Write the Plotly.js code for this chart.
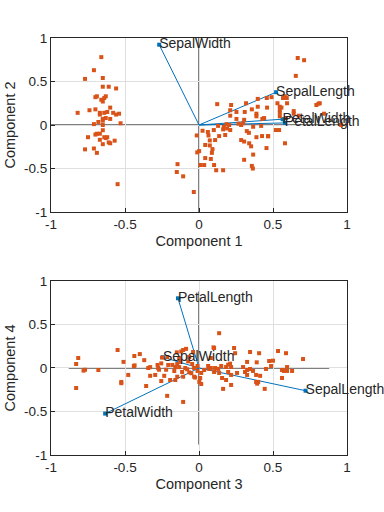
<!DOCTYPE html>
<html>
<head>
<meta charset="utf-8">
<script src="https://cdn.plot.ly/plotly-3.0.1.min.js"></script>
<style>html,body{margin:0;padding:0;background:#fff;}#chart{width:384px;height:512px;}</style>
</head>
<body>
<div id="chart"></div>
<script>
const vecNames = ['SepalLength','SepalWidth','PetalLength','PetalWidth'];
const vec12x = [0.521,-0.269,0.580,0.565];
const vec12y = [0.377,0.923,0.024,0.067];
const vec34x = [0.720,-0.244,-0.142,-0.634];
const vec34y = [-0.261,0.124,0.801,-0.524];

const score12 = [
[-0.66,0.78],[-0.71,0.63],[-0.77,0.53],[-0.65,0.54],[-0.65,0.44],[-0.61,0.44],[-0.56,0.42],[-0.70,0.32],[-0.69,0.33],[-0.63,0.33],[-0.64,0.31],[-0.66,0.29],[-0.65,0.27],[-0.60,0.20],[-0.74,0.17],[-0.70,0.18],[-0.82,0.14],[-0.67,0.14],[-0.67,0.12],[-0.64,0.14],[-0.62,0.15],[-0.58,0.14],[-0.56,0.12],[-0.54,0.13],[-0.65,0.07],[-0.63,0.08],[-0.60,0.07],[-0.65,0.05],[-0.68,0.035],[-0.53,0.02],[-0.71,0.01],[-0.65,0.0],[-0.65,-0.06],[-0.67,-0.10],[-0.69,-0.10],[-0.70,-0.11],[-0.75,-0.14],[-0.64,-0.14],[-0.63,-0.15],[-0.62,-0.14],[-0.67,-0.17],[-0.57,-0.18],[-0.61,-0.20],[-0.60,-0.21],[-0.65,-0.22],[-0.71,-0.27],[-0.77,-0.28],[-0.69,-0.32],[-0.55,-0.68],
[0.667,0.77],[0.71,0.745],[0.654,0.565],[0.458,0.31],[0.49,0.32],[0.397,0.30],[0.568,0.31],[0.58,0.33],[0.593,0.31],[0.53,0.25],[0.595,0.25],[0.123,0.24],[0.318,0.25],[0.217,0.23],[0.397,0.21],[0.46,0.20],[0.546,0.21],[0.557,0.20],[0.357,0.18],[0.211,0.17],[0.546,0.17],[0.309,0.15],[0.253,0.15],[0.388,0.13],[0.546,0.14],[0.64,0.16],[0.793,0.23],[0.816,0.25],[0.845,0.13],[0.211,0.107],[0.388,0.10],[0.546,0.10],[0.674,0.107],[0.253,0.07],[0.44,0.08],[0.428,0.07],[0.305,0.06],[0.186,0.01],[0.204,0.0],[0.129,-0.01],[0.168,-0.02],[0.267,0.015],[0.285,0.0],[0.298,0.02],[0.366,-0.02],[0.42,-0.01],[0.024,-0.066],[0.06,-0.08],[0.10,-0.058],[0.163,-0.05],[0.19,-0.04],[0.211,-0.058],[0.323,-0.07],[0.337,-0.09],[0.519,-0.058],[0.541,-0.058],[-0.015,-0.12],[0.064,-0.12],[0.136,-0.127],[0.177,-0.115],[0.388,-0.14],[0.426,-0.127],[0.467,-0.127],[0.073,-0.177],[0.109,-0.173],[0.285,-0.173],[0.305,-0.19],[0.042,-0.23],[0.073,-0.235],[0.091,-0.277],[0.339,-0.21],[0.352,-0.245],[0.456,-0.265],[0.581,-0.21],[0.001,-0.30],[-0.012,-0.315],[0.087,-0.32],[0.366,-0.34],[0.042,-0.38],[0.08,-0.39],[0.305,-0.40],[0.01,-0.46],[0.035,-0.46],[0.102,-0.46],[0.357,-0.47],[0.364,-0.50],[0.116,-0.52],[0.163,-0.52],[-0.145,-0.45],[-0.15,-0.54],[-0.107,-0.59],[-0.035,-0.77],[0.96,0.0],[0.807,0.245],[0.586,0.08],[0.64,0.13],[0.467,-0.13]
];

const score34 = [
[-0.816,0.115],[-0.83,0.046],[-0.78,-0.03],[-0.77,-0.02],[-0.68,-0.023],[-0.83,-0.23],[-0.55,0.207],[-0.51,0.07],[-0.525,-0.16],[-0.525,-0.175],[-0.44,0.023],[-0.435,0.03],[-0.437,0.138],[-0.40,0.16],[-0.478,-0.08],[-0.37,0.09],[-0.357,-0.207],[-0.343,0.0],[-0.33,0.01],[-0.33,-0.09],[-0.296,-0.08],[-0.28,0.035],[-0.276,0.0],[-0.27,-0.02],[-0.255,0.053],[-0.25,0.12],[-0.255,-0.15],[-0.235,-0.09],[-0.215,0.126],[-0.222,-0.02],[-0.208,0.035],[-0.215,-0.32],[-0.195,-0.138],[-0.16,-0.138],[-0.167,-0.035],[-0.16,0.01],[-0.147,-0.10],[-0.134,0.115],[-0.134,0.01],[-0.127,0.07],[-0.12,0.19],[-0.107,0.207],[-0.087,0.22],[-0.107,-0.39],[-0.114,-0.046],[-0.107,-0.10],[-0.093,0.0],[-0.08,-0.015],[-0.073,0.076],[-0.066,0.126],[-0.066,-0.05],[-0.052,-0.06],[-0.04,0.184],[-0.033,-0.10],[-0.026,-0.11],[-0.033,0.0],[-0.046,0.046],[-0.147,0.046],[-0.18,0.035],[-0.15,0.18],
[0.136,0.40],[0.102,0.23],[0.237,0.23],[0.244,0.17],[0.345,0.184],[0.406,0.17],[0.534,0.195],[0.588,0.17],[0.703,0.103],[0.325,0.07],[0.474,0.08],[0.487,0.023],[0.453,-0.011],[0.561,-0.023],[0.574,-0.034],[0.595,0.011],[0.595,-0.034],[0.629,-0.034],[0.561,-0.115],[0.298,0.011],[0.311,-0.046],[0.325,-0.023],[0.345,-0.011],[0.365,-0.034],[0.386,-0.08],[0.413,-0.09],[0.386,-0.16],[0.393,-0.18],[0.40,-0.16],[0.325,-0.08],[0.444,-0.24],[0.217,-0.195],[0.217,-0.08],[0.183,-0.138],[0.257,-0.057],[0.163,-0.24],[0.197,0.038],[0.21,0.05],[0.183,0.011],[0.15,0.023],[0.13,-0.011],[0.109,0.0],[0.102,-0.046],[0.136,-0.057],[0.156,-0.115],[0.062,0.023],[0.069,-0.011],[0.08,0.0],[0.035,-0.023],[0.015,-0.057],[0.008,-0.115],[0.015,-0.184],[0.002,-0.16],[-0.01,-0.034],[-0.01,0.023],[0.08,0.115],[0.217,0.011],[0.197,-0.046],[0.098,0.237],[0.5,0.084],[0.39,0.065]
];

const tickVals = [-1,-0.5,0,0.5,1];
const tickText = ['-1','-0.5','0','0.5','1'];
const axisLen12 = 1.0;
const axisLen34 = 0.88;

const FONT = 'Liberation Sans, Arial, sans-serif';
const TXT = '#262626';
const BLUE = '#0072BD';
const ORANGE = '#D95319';

function vecTraces(vx, vy, xa, ya) {
  const lx = [], ly = [];
  for (let i = 0; i < vx.length; i++) { lx.push(0, vx[i], null); ly.push(0, vy[i], null); }
  return [
    {x: lx, y: ly, xaxis: xa, yaxis: ya, type: 'scatter', mode: 'lines',
     line: {color: BLUE, width: 1}, hoverinfo: 'skip', showlegend: false},
    {x: vx, y: vy, xaxis: xa, yaxis: ya, type: 'scatter', mode: 'markers',
     marker: {symbol: 'square', size: 4, color: BLUE}, hoverinfo: 'skip', showlegend: false}
  ];
}
function scoreTrace(s, xa, ya) {
  return {x: s.map(p => p[0]), y: s.map(p => p[1]), xaxis: xa, yaxis: ya, type: 'scatter', mode: 'markers',
    marker: {symbol: 'square', size: 4, color: ORANGE}, hoverinfo: 'skip', showlegend: false};
}
function labelTrace(vx, vy, xa, ya) {
  return {x: vx, y: vy, text: vecNames, xaxis: xa, yaxis: ya, type: 'scatter', mode: 'text',
    textposition: 'middle right', textfont: {family: FONT, size: 14, color: TXT},
    hoverinfo: 'skip', showlegend: false, cliponaxis: false};
}

const data = [].concat(
  vecTraces(vec12x, vec12y, 'x', 'y'),
  [scoreTrace(score12, 'x', 'y')],
  vecTraces(vec34x, vec34y, 'x2', 'y2'),
  [scoreTrace(score34, 'x2', 'y2')],
  [labelTrace(vec12x, vec12y, 'x', 'y'), labelTrace(vec34x, vec34y, 'x2', 'y2')]
);

function axis(title, domain, anchor) {
  return {
    domain: domain, anchor: anchor, range: [-1, 1],
    tickvals: tickVals, ticktext: tickText,
    showgrid: true, gridcolor: '#dfdfdf', gridwidth: 1,
    zeroline: false, showline: true, linecolor: '#262626', linewidth: 1, mirror: true,
    ticks: 'inside', ticklen: 4, tickcolor: '#262626',
    tickfont: {family: FONT, size: 13.5, color: TXT},
    title: {text: title, font: {family: FONT, size: 14.5, color: TXT}, standoff: 4},
    fixedrange: true
  };
}

const shapes = [
  {type: 'line', xref: 'x', yref: 'y', x0: -axisLen12, x1: axisLen12, y0: 0, y1: 0, line: {color: '#000', width: 1.2}, layer: 'below'},
  {type: 'line', xref: 'x', yref: 'y', x0: 0, x1: 0, y0: -axisLen12, y1: axisLen12, line: {color: '#808080', width: 2}, layer: 'below'},
  {type: 'line', xref: 'x2', yref: 'y2', x0: -axisLen34, x1: axisLen34, y0: 0, y1: 0, line: {color: '#000', width: 1.2}, layer: 'below'},
  {type: 'line', xref: 'x2', yref: 'y2', x0: 0, x1: 0, y0: -axisLen34, y1: axisLen34, line: {color: '#808080', width: 2}, layer: 'below'}
];

const layout = {
  width: 384, height: 512,
  margin: {l: 51, r: 37, t: 38, b: 57},
  paper_bgcolor: '#fff', plot_bgcolor: '#fff',
  showlegend: false,
  xaxis: axis('Component 1', [0, 1], 'y'),
  yaxis: axis('Component 2', [0.5827, 1], 'x'),
  xaxis2: axis('Component 3', [0, 1], 'y2'),
  yaxis2: axis('Component 4', [0, 0.4173], 'x2'),
  shapes: shapes
};

Plotly.newPlot('chart', data, layout, {displayModeBar: false, staticPlot: true});
</script>
</body>
</html>
